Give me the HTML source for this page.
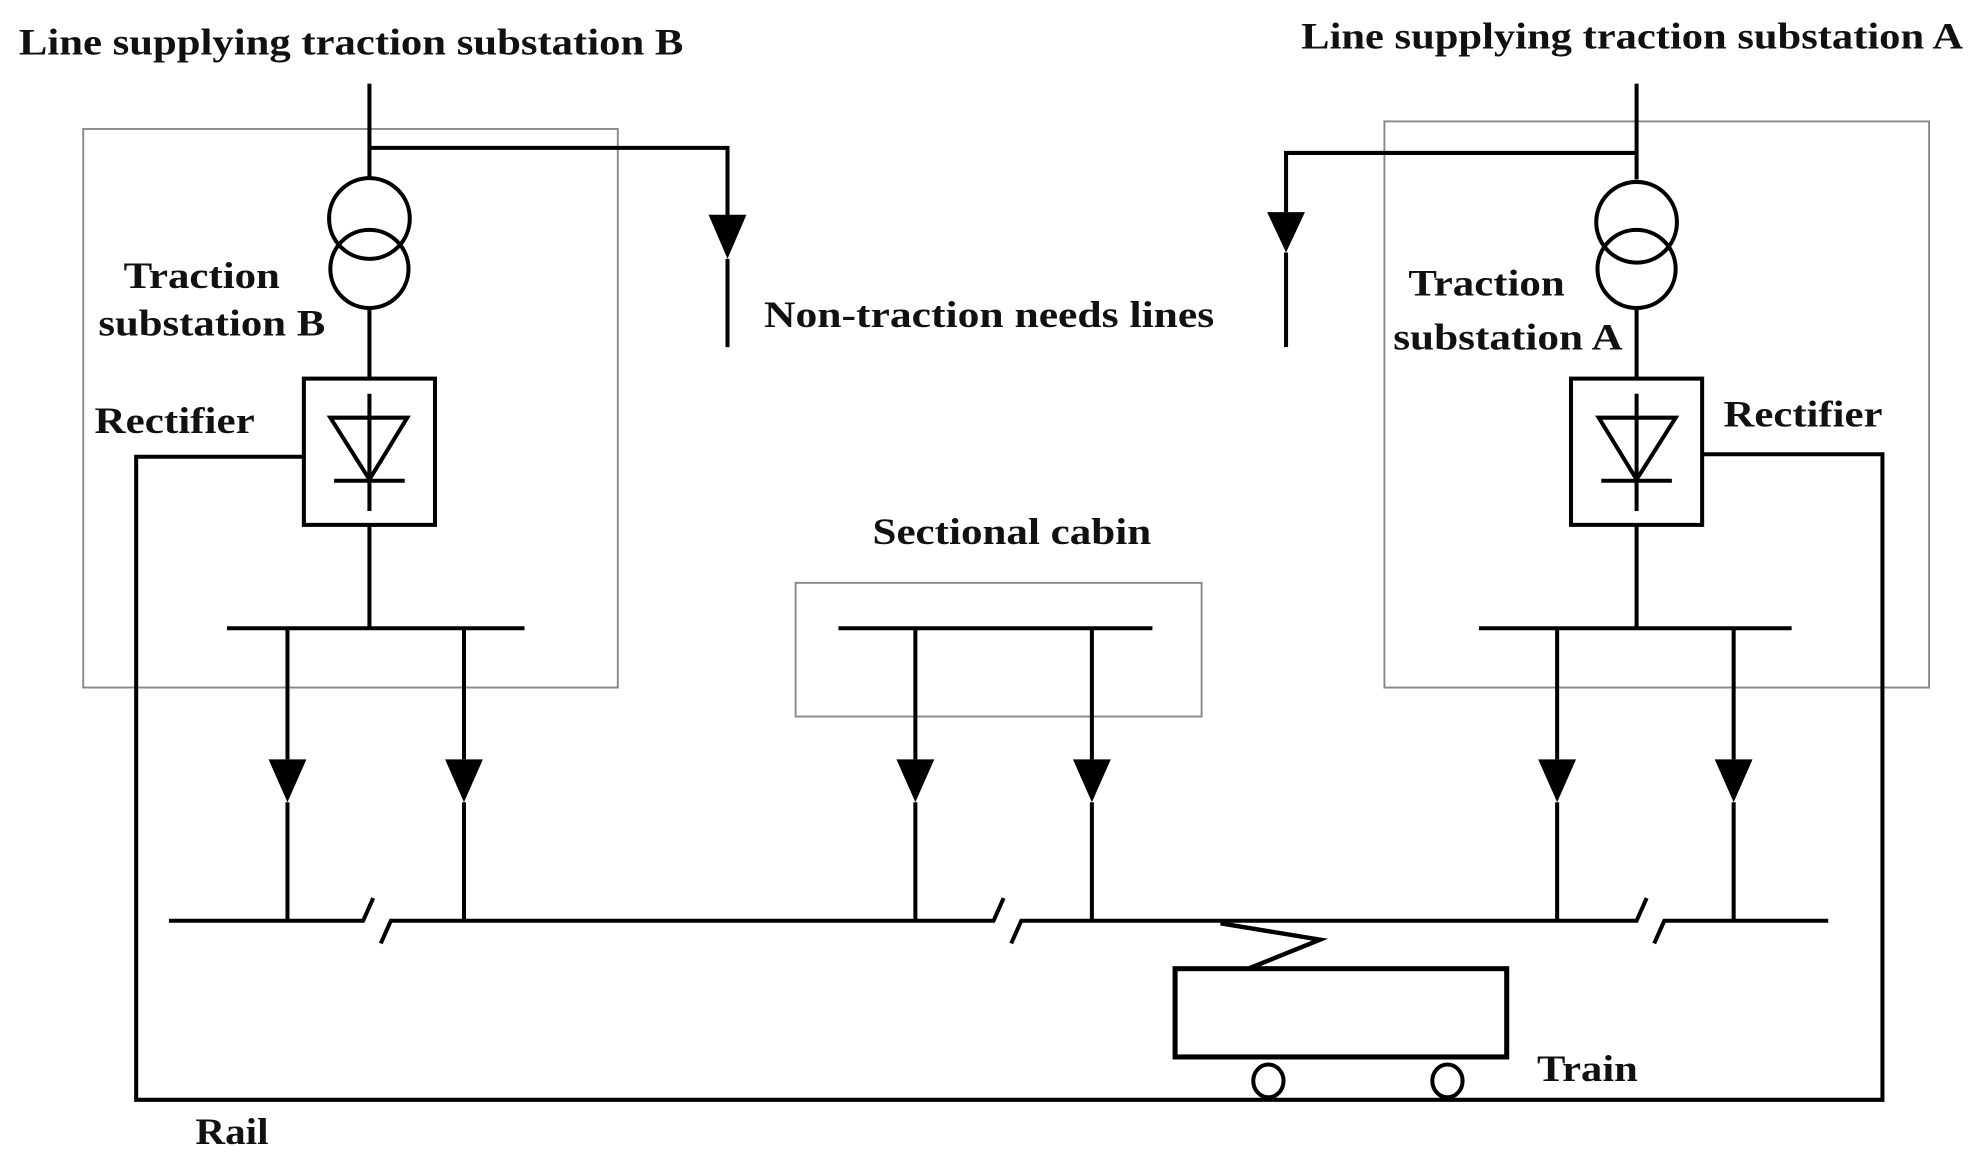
<!DOCTYPE html>
<html><head><meta charset="utf-8"><style>
html,body{margin:0;padding:0;background:#fff;}
svg{display:block;}
text{font-family:"Liberation Serif",serif;font-weight:bold;fill:#111;}
</style></head><body>
<svg width="1977" height="1167" viewBox="0 0 1568 925" xmlns="http://www.w3.org/2000/svg">
<g fill="none" stroke="#888" stroke-width="1.5">
<rect x="66" y="102" width="424" height="443"/>
<rect x="1098" y="96" width="432" height="449"/>
<rect x="631" y="462" width="322" height="106"/>
</g>
<g fill="none" stroke="#000" stroke-width="3.2">
<path d="M293 66V141"/>
<path d="M293 117H577V172"/>
<path d="M577 205V275"/>
<circle cx="293" cy="173" r="32"/>
<circle cx="293" cy="213" r="31"/>
<path d="M293 244V300"/>
<rect x="241" y="300" width="104" height="116"/>
<path d="M262 331H323L293 380Z"/>
<path d="M265 381H321M293 312V405"/>
<path d="M293 416V497"/>
<path d="M180 498H416"/>
<path d="M228 498V602M228 636V730"/>
<path d="M368 498V602M368 636V730"/>
<path d="M1298 66V142"/>
<path d="M1298 121H1020V168"/>
<path d="M1020 200V275"/>
<circle cx="1298" cy="176" r="32"/>
<circle cx="1298" cy="213" r="31"/>
<path d="M1298 244V300"/>
<rect x="1246" y="300" width="104" height="116"/>
<path d="M1268 331H1329L1298 380Z"/>
<path d="M1270 381H1326M1298 312V405"/>
<path d="M1298 416V497"/>
<path d="M1173 498H1421"/>
<path d="M1235 498V602M1235 636V730"/>
<path d="M1375 498V602M1375 636V730"/>
<path d="M665 498H914"/>
<path d="M726 498V602M726 636V730"/>
<path d="M866 498V602M866 636V730"/>
<path d="M134 730H288L296 712"/>
<path d="M302 748L310 730H788L796 712"/>
<path d="M802 748L810 730H1298L1306 712"/>
<path d="M1312 748L1320 730H1450"/>
<path d="M241 362H108V872H1493V360H1350"/>
<rect x="932" y="768" width="263" height="70" stroke-width="4"/>
<ellipse cx="1006" cy="857" rx="12" ry="13"/>
<ellipse cx="1148" cy="857" rx="12" ry="13"/>
<path d="M968 732L1047 745L990 768" stroke-width="3.5"/>
</g>
<g fill="#000">
<path d="M562 170H592L577 205Z"/>
<path d="M1005 168H1035L1020 200Z"/>
<path d="M213 602H243L228 636Z"/>
<path d="M353 602H383L368 636Z"/>
<path d="M711 602H741L726 636Z"/>
<path d="M851 602H881L866 636Z"/>
<path d="M1220 602H1250L1235 636Z"/>
<path d="M1360 602H1390L1375 636Z"/>
</g>
<g font-size="29">
<text x="15" y="43" textLength="527" lengthAdjust="spacingAndGlyphs">Line supplying traction substation B</text>
<text x="1032" y="38" textLength="525" lengthAdjust="spacingAndGlyphs">Line supplying traction substation A</text>
<text x="98" y="228" textLength="124" lengthAdjust="spacingAndGlyphs">Traction</text>
<text x="78" y="266" textLength="180" lengthAdjust="spacingAndGlyphs">substation B</text>
<text x="75" y="343" textLength="127" lengthAdjust="spacingAndGlyphs">Rectifier</text>
<text x="606" y="259" textLength="357" lengthAdjust="spacingAndGlyphs">Non-traction needs lines</text>
<text x="1117" y="234" textLength="124" lengthAdjust="spacingAndGlyphs">Traction</text>
<text x="1105" y="277" textLength="182" lengthAdjust="spacingAndGlyphs">substation A</text>
<text x="1367" y="338" textLength="126" lengthAdjust="spacingAndGlyphs">Rectifier</text>
<text x="692" y="431" textLength="221" lengthAdjust="spacingAndGlyphs">Sectional cabin</text>
<text x="1219" y="857" textLength="80" lengthAdjust="spacingAndGlyphs" font-weight="normal">Train</text>
<text x="155" y="907" textLength="58" lengthAdjust="spacingAndGlyphs">Rail</text>
</g>
</svg>
</body></html>
